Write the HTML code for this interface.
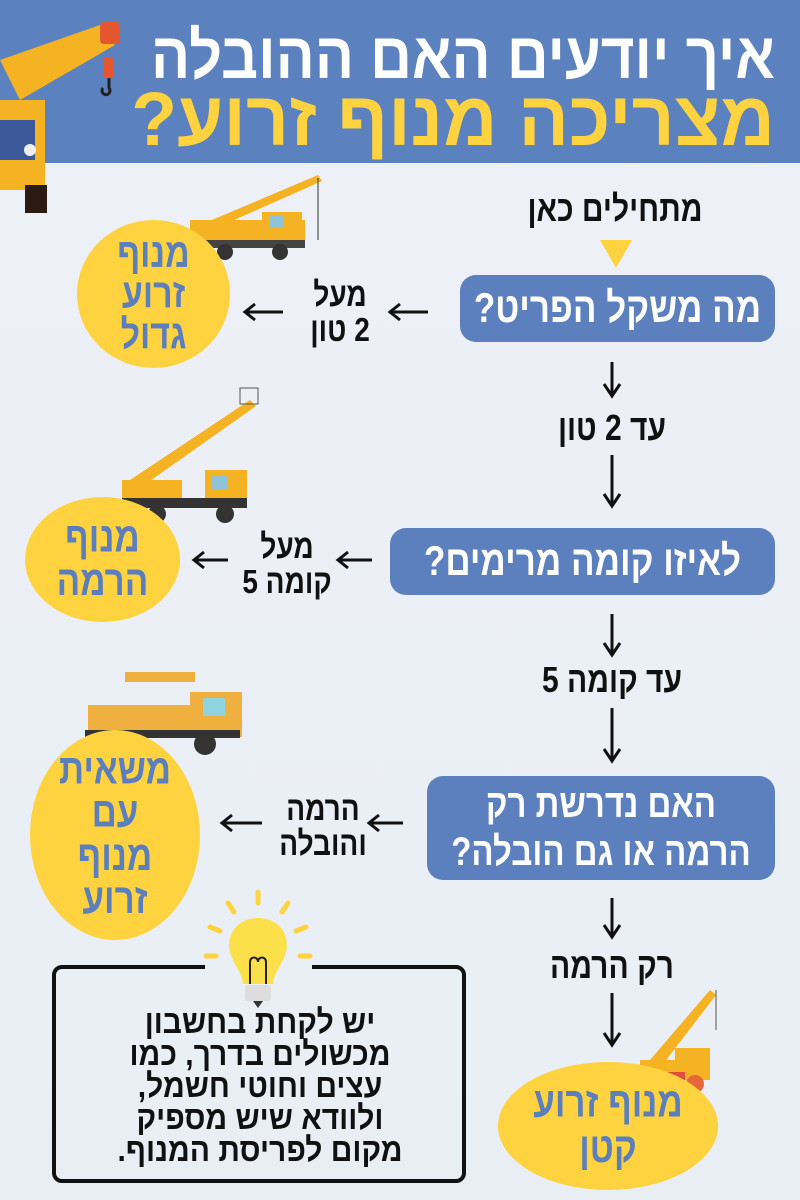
<!DOCTYPE html>
<html><head><meta charset="utf-8"><style>
html,body{margin:0;padding:0}
body{width:800px;height:1200px;position:relative;overflow:hidden;background:linear-gradient(180deg,#eef1f6,#e9eef5);font-family:"Liberation Sans","DejaVu Sans",sans-serif;font-weight:bold}
.t{position:absolute;direction:rtl;text-align:center;white-space:nowrap}
.box{position:absolute;background:#5b80bd;border-radius:16px;color:#fff;direction:rtl;display:flex;align-items:center;justify-content:center;text-align:center}
.c{position:absolute;background:#fed33f;border-radius:50%;color:#5b7fbd;direction:rtl;display:flex;align-items:center;justify-content:center;text-align:center}
.tall{display:inline-block;transform:scaleY(1.2)}
</style></head><body>
<div style="position:absolute;left:0;top:0;width:800px;height:163px;background:#5b82bf"></div>
<svg width="800" height="1200" style="position:absolute;left:0;top:0">
<polygon points="0,60 100,25 115,45 20,100" fill="#f5b324"/>
<rect x="100" y="22" width="20" height="22" fill="#e4572e" rx="4"/>
<rect x="104" y="58" width="10" height="20" fill="#e4572e"/>
<path d="M109,78 v10 a4,4 0 1 1 -6,0" stroke="#222" stroke-width="3" fill="none"/>
<rect x="0" y="100" width="45" height="90" fill="#f5b324"/>
<rect x="0" y="120" width="35" height="40" fill="#3c5a9a"/>
<rect x="25" y="185" width="22" height="28" fill="#2b1a12"/>
<circle cx="30" cy="150" r="6" fill="#eee"/>
<polygon points="600,240 632,240 616,268" fill="#fed33f"/>
<g>
<rect x="190" y="220" width="115" height="22" fill="#f5b324"/>
<rect x="262" y="212" width="40" height="30" fill="#f5b324"/>
<rect x="270" y="216" width="14" height="12" fill="#8fc3d8"/>
<polygon points="200,225 318,175 322,181 205,233" fill="#f5b324"/>
<line x1="318" y1="178" x2="318" y2="240" stroke="#333"/>
<rect x="190" y="240" width="115" height="8" fill="#444"/>
<circle cx="205" cy="252" r="8" fill="#333"/><circle cx="225" cy="252" r="8" fill="#333"/><circle cx="280" cy="252" r="8" fill="#333"/>
</g>
<g>
<polygon points="130,480 250,400 256,406 140,488" fill="#f5b324"/>
<rect x="240" y="388" width="18" height="16" fill="none" stroke="#555"/>
<rect x="122" y="480" width="60" height="20" fill="#f5b324"/>
<rect x="205" y="470" width="42" height="32" fill="#f5b324"/>
<rect x="212" y="475" width="16" height="14" fill="#8fc3d8"/>
<rect x="122" y="498" width="125" height="10" fill="#333"/>
<circle cx="157" cy="514" r="9" fill="#333"/><circle cx="225" cy="514" r="9" fill="#333"/>
</g>
<g>
<rect x="125" y="672" width="70" height="10" fill="#f0b040"/>
<rect x="88" y="705" width="105" height="25" fill="#f0b040"/>
<rect x="190" y="692" width="52" height="45" fill="#f0b040"/>
<rect x="203" y="698" width="22" height="18" fill="#8fd3e0"/>
<rect x="85" y="730" width="155" height="8" fill="#333"/>
<circle cx="112" cy="744" r="11" fill="#333"/><circle cx="205" cy="744" r="11" fill="#333"/>
</g>
<g>
<polygon points="650,1060 710,990 716,995 660,1068" fill="#f5b324"/>
<line x1="716" y1="990" x2="716" y2="1030" stroke="#555"/>
<rect x="640" y="1060" width="40" height="20" fill="#f5b324"/>
<rect x="675" y="1048" width="35" height="32" fill="#f5b324"/>
<rect x="645" y="1072" width="40" height="12" fill="#e24c3a"/>
<circle cx="660" cy="1084" r="9" fill="#e8673a"/><circle cx="695" cy="1084" r="9" fill="#e8673a"/>
</g>
<g stroke="#111" stroke-width="3" fill="none">
<path d="M612,362 v32 M604,384 l8,12 8,-12"/>
<path d="M612,455 v50 M604,494 l8,12 8,-12"/>
<path d="M612,614 v40 M604,643 l8,12 8,-12"/>
<path d="M612,708 v52 M604,749 l8,12 8,-12"/>
<path d="M612,898 v38 M604,925 l8,12 8,-12"/>
<path d="M612,993 v52 M604,1033 l8,12 8,-12"/>
<path d="M428,312 h-38 M400,304 l-10,8 10,8"/>
<path d="M283,312 h-38 M255,304 l-10,8 10,8"/>
<path d="M372,560 h-34 M348,552 l-10,8 10,8"/>
<path d="M228,560 h-34 M204,552 l-10,8 10,8"/>
<path d="M403,823 h-34 M379,815 l-10,8 10,8"/>
<path d="M262,823 h-40 M232,815 l-10,8 10,8"/>
</g>
<path d="M205,967 H62 a8,8 0 0 0 -8,8 V1173 a8,8 0 0 0 8,8 H456 a8,8 0 0 0 8,-8 V975 a8,8 0 0 0 -8,-8 H312" stroke="#111" stroke-width="4" fill="none"/>
<g stroke="#fed33f" stroke-width="5" stroke-linecap="round">
<line x1="258" y1="892" x2="258" y2="903"/><line x1="228" y1="903" x2="234" y2="912"/><line x1="288" y1="903" x2="282" y2="912"/>
<line x1="210" y1="927" x2="220" y2="931"/><line x1="306" y1="927" x2="296" y2="931"/>
<line x1="206" y1="956" x2="216" y2="956"/><line x1="300" y1="956" x2="310" y2="956"/>
</g>
<path d="M258,918 c-22,0 -32,18 -28,34 c3,12 12,20 13,32 h30 c1,-12 10,-20 13,-32 c4,-16 -6,-34 -28,-34z" fill="#fbe04a"/>
<path d="M250,984 v-22 c0,-6 8,-6 8,0 c0,-6 8,-6 8,0 v22" stroke="#222" stroke-width="2" fill="none"/>
<rect x="245" y="985" width="26" height="16" fill="#ddd" rx="3"/>
<path d="M253,1001 h10 l-5,7z" fill="#333"/>
</svg>
<div class="t" style="right:25px;top:22px;font-size:58px;color:#fff;line-height:62px;transform:scaleY(1.12);transform-origin:right top">איך יודעים האם ההובלה</div>
<div class="t" style="right:25px;top:82px;font-size:75px;color:#fed33f;line-height:72px;transform:scaleY(1.02);transform-origin:right top">מצריכה מנוף זרוע?</div>
<div class="t" style="left:480px;width:270px;top:193px;font-size:30px;color:#111"><span class="tall">מתחילים כאן</span></div>
<div class="box" style="left:460px;top:275px;width:315px;height:67px;font-size:35px"><span class="tall">מה משקל הפריט?</span></div>
<div class="box" style="left:390px;top:528px;width:385px;height:67px;font-size:35px"><span class="tall">לאיזו קומה מרימים?</span></div>
<div class="box" style="left:427px;top:776px;width:348px;height:104px;font-size:33px;line-height:40px"><span class="tall">האם נדרשת רק<br>הרמה או גם הובלה?</span></div>
<div class="c" style="left:77px;top:220px;width:153px;height:148px;font-size:34px;line-height:34px"><span class="tall">מנוף<br>זרוע<br>גדול</span></div>
<div class="c" style="left:25px;top:497px;width:155px;height:125px;font-size:35px;line-height:36px"><span class="tall">מנוף<br>הרמה</span></div>
<div class="c" style="left:30px;top:730px;width:170px;height:210px;font-size:35px;line-height:36px"><span class="tall">משאית<br>עם<br>מנוף<br>זרוע</span></div>
<div class="c" style="left:498px;top:1062px;width:220px;height:128px;font-size:35px;line-height:38px"><span class="tall">מנוף זרוע<br>קטן</span></div>
<div class="t" style="left:285px;width:110px;top:283px;font-size:28px;line-height:29px;color:#111"><span class="tall">מעל<br>2 טון</span></div>
<div class="t" style="left:228px;width:118px;top:535px;font-size:28px;line-height:29px;color:#111"><span class="tall">מעל<br>קומה 5</span></div>
<div class="t" style="left:240px;width:166px;top:797px;font-size:28px;line-height:29px;color:#111"><span class="tall">הרמה<br>והובלה</span></div>
<div class="t" style="left:502px;width:220px;top:412px;font-size:30px;color:#111"><span class="tall">עד 2 טון</span></div>
<div class="t" style="left:502px;width:220px;top:664px;font-size:30px;color:#111"><span class="tall">עד קומה 5</span></div>
<div class="t" style="left:502px;width:220px;top:950px;font-size:30px;color:#111"><span class="tall">רק הרמה</span></div>
<div class="t" style="left:60px;width:400px;top:1014px;font-size:30px;line-height:29px;color:#111"><span class="tall" style="transform:scaleY(1.1)">יש לקחת בחשבון<br>מכשולים בדרך, כמו<br>עצים וחוטי חשמל,<br>ולוודא שיש מספיק<br>מקום לפריסת המנוף.</span></div>
</body></html>
